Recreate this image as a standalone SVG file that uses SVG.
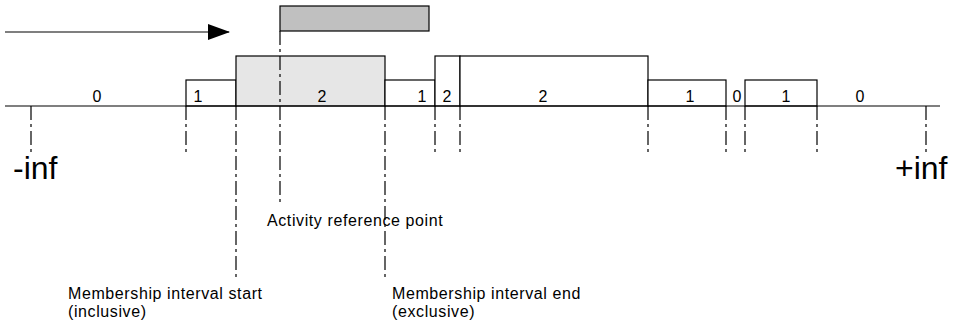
<svg xmlns="http://www.w3.org/2000/svg" width="956" height="326" viewBox="0 0 956 326">
  <style>
    .seg { fill: #ffffff; stroke: #000; stroke-width: 1.2; }
    .mid { fill: #e6e6e6; stroke: #000; stroke-width: 1.2; }
    .act { fill: #c0c0c0; stroke: #000; stroke-width: 1.2; }
    .axis { stroke: #000; stroke-width: 1.2; fill: none; }
    .tick { stroke: #000; stroke-width: 1.2; fill: none; stroke-dasharray: 14 4 3 4; }
    .num { font-family: "Liberation Sans", Arial, sans-serif; font-size: 16px; fill: #000; text-anchor: middle; }
    .lbl { font-family: "Liberation Sans", Arial, sans-serif; font-size: 16px; letter-spacing: 0.6px; fill: #000; }
    .inf { font-family: "Liberation Sans", Arial, sans-serif; font-size: 32px; fill: #000; }
  </style>
  <defs>
    <marker id="head" markerWidth="22" markerHeight="16" refX="21" refY="8" orient="auto" markerUnits="userSpaceOnUse">
      <polygon points="0,0 22,8 0,16" fill="#000"/>
    </marker>
  </defs>

  <rect width="956" height="326" fill="#fff"/>

  <!-- membership count steps along the time axis -->
  <g id="seg-0a"><text class="num" x="97" y="102">0</text></g>
  <g id="seg-1a"><rect class="seg" x="186" y="80" width="50" height="26"/><text class="num" x="198" y="102">1</text></g>
  <g id="seg-2a"><rect class="mid" x="236" y="56" width="149" height="50"/><text class="num" x="322" y="102">2</text></g>
  <g id="seg-1b"><rect class="seg" x="385" y="80" width="50" height="26"/><text class="num" x="422" y="102">1</text></g>
  <g id="seg-2b"><rect class="seg" x="435" y="56" width="25" height="50"/><text class="num" x="447" y="102">2</text></g>
  <g id="seg-2c"><rect class="seg" x="460" y="56" width="188" height="50"/><text class="num" x="543" y="102">2</text></g>
  <g id="seg-1c"><rect class="seg" x="648" y="80" width="78" height="26"/><text class="num" x="690" y="102">1</text></g>
  <g id="seg-0b"><text class="num" x="737" y="102">0</text></g>
  <g id="seg-1d"><rect class="seg" x="745" y="80" width="72" height="26"/><text class="num" x="786" y="102">1</text></g>
  <g id="seg-0c"><text class="num" x="860" y="102">0</text></g>

  <!-- activity span -->
  <g id="activity"><rect class="act" x="280" y="6" width="149" height="25"/></g>

  <g id="connectors">
    <line class="axis" x1="5" y1="106" x2="940" y2="106"/>
    <line class="axis" x1="5" y1="32" x2="229" y2="32" marker-end="url(#head)"/>
    <line class="tick" x1="31" y1="106" x2="31" y2="156"/>
    <line class="tick" x1="186" y1="106" x2="186" y2="156"/>
    <line class="tick" x1="236" y1="106" x2="236" y2="278"/>
    <line class="tick" x1="280" y1="31" x2="280" y2="205"/>
    <line class="tick" x1="385" y1="106" x2="385" y2="278"/>
    <line class="tick" x1="435" y1="106" x2="435" y2="156"/>
    <line class="tick" x1="460" y1="106" x2="460" y2="156"/>
    <line class="tick" x1="648" y1="106" x2="648" y2="156"/>
    <line class="tick" x1="726" y1="106" x2="726" y2="156"/>
    <line class="tick" x1="745" y1="106" x2="745" y2="156"/>
    <line class="tick" x1="817" y1="106" x2="817" y2="156"/>
    <line class="tick" x1="926" y1="106" x2="926" y2="156"/>
  </g>

  <g id="labels">
    <text class="inf" x="13" y="179">-inf</text>
    <text class="inf" x="895" y="179">+inf</text>
    <text class="lbl" x="267" y="226">Activity reference point</text>
    <text class="lbl" x="68" y="299">Membership interval start</text>
    <text class="lbl" x="68" y="317">(inclusive)</text>
    <text class="lbl" x="392" y="299">Membership interval end</text>
    <text class="lbl" x="392" y="317">(exclusive)</text>
  </g>
</svg>
